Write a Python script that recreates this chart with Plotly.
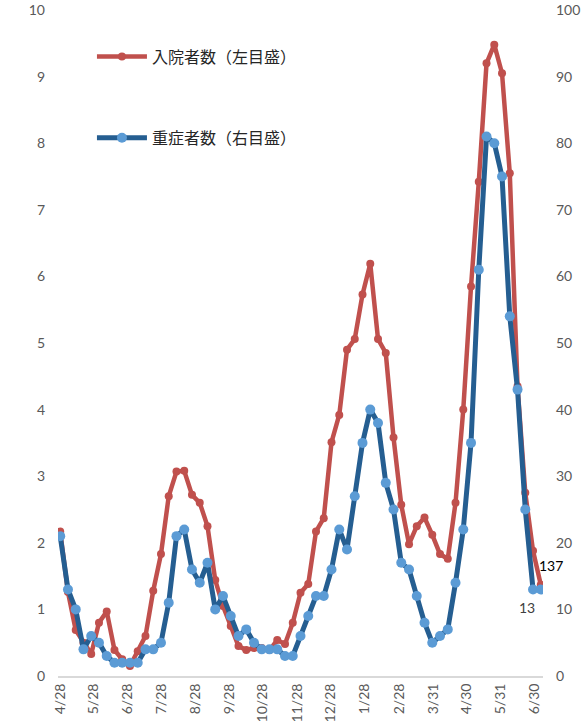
import pandas as pd
import plotly.graph_objects as go

start_date = "2020-04-28"
n_points = 63
dates = pd.date_range(start_date, periods=n_points, freq="7D")

# 入院者数 (left axis)
hospitalized = [2.17, 1.26, 0.69, 0.50, 0.33, 0.80, 0.97, 0.39, 0.25, 0.15,
                0.37, 0.60, 1.28, 1.83, 2.70, 3.07, 3.08, 2.72, 2.60, 2.25,
                1.44, 1.05, 0.75, 0.45, 0.39, 0.42, 0.42, 0.39, 0.54, 0.48,
                0.80, 1.25, 1.38, 2.17, 2.37, 3.51, 3.92, 4.90, 5.06, 5.73,
                6.19, 5.06, 4.85, 3.58, 2.57, 1.98, 2.25, 2.38, 2.12, 1.83,
                1.76, 2.60, 4.00, 5.85, 7.42, 9.20, 9.48, 9.05, 7.55, 4.35,
                2.75, 1.88, 1.37]
# 重症者数 (right axis)
severe = [21, 13, 10, 4, 6, 5, 3, 2, 2, 2,
          2, 4, 4, 5, 11, 21, 22, 16, 14, 17,
          10, 12, 9, 6, 7, 5, 4, 4, 4, 3,
          3, 6, 9, 12, 12, 16, 22, 19, 27, 35,
          40, 38, 29, 25, 17, 16, 12, 8, 5, 6,
          7, 14, 22, 35, 61, 81, 80, 75, 54, 43,
          25, 13, 13]

tick_dates = ["2020-04-28", "2020-05-28", "2020-06-28", "2020-07-28", "2020-08-28",
              "2020-09-28", "2020-10-28", "2020-11-28", "2020-12-28", "2021-01-28",
              "2021-02-28", "2021-03-31", "2021-04-30", "2021-05-31", "2021-06-30"]
tick_labels = ["4/28", "5/28", "6/28", "7/28", "8/28", "9/28", "10/28", "11/28",
               "12/28", "1/28", "2/28", "3/31", "4/30", "5/31", "6/30"]

name_hosp = "入院者数（左目盛）"
name_severe = "重症者数（右目盛）"
label_hosp = "137"
label_severe = "13"

RED = "#C0504D"
BLUE_LINE = "#255E91"
BLUE_MARK = "#5B9BD5"
GREY = "#595959"
FONT = "Noto Sans CJK JP, Noto Sans, sans-serif"
NUMFONT = "Lato, Open Sans, sans-serif"

fig = go.Figure()
fig.add_trace(go.Scatter(
    x=dates, y=hospitalized, name=name_hosp, mode="lines+markers",
    line=dict(color=RED, width=4.5), marker=dict(color=RED, size=8),
    legend="legend", showlegend=True, yaxis="y"))
fig.add_trace(go.Scatter(
    x=dates, y=severe, name=name_severe, mode="lines+markers",
    line=dict(color=BLUE_LINE, width=5), marker=dict(color=BLUE_MARK, size=10),
    legend="legend2", showlegend=True, yaxis="y2"))

fig.add_annotation(x=dates[-2], y=severe[-2], xref="x", yref="y2", text=label_severe,
                   showarrow=False, yshift=-18, xshift=-6,
                   font=dict(family=NUMFONT, size=14, color="#404040"))
fig.add_annotation(x=dates[-1], y=hospitalized[-1], xref="x", yref="y", text=label_hosp,
                   showarrow=False, xanchor="left", yshift=19, xshift=-4,
                   font=dict(family=NUMFONT, size=14, color="#000000"))

legend_common = dict(xanchor="left", yanchor="middle", bgcolor="rgba(0,0,0,0)",
                     font=dict(family=FONT, size=16, color="#262626"),
                     itemwidth=50)

fig.update_layout(
    width=583, height=721,
    showlegend=True,
    margin=dict(l=58, r=40, t=10, b=45, autoexpand=False),
    plot_bgcolor="white", paper_bgcolor="white",
    font=dict(family=FONT, color=GREY),
    legend=dict(x=0.07, y=0.93, **legend_common),
    legend2=dict(x=0.07, y=0.808, **legend_common),
    xaxis=dict(
        type="date", range=["2020-04-26", "2021-07-08"], automargin=False,
        tickvals=tick_dates, ticktext=tick_labels, tickangle=-90,
        showgrid=False, zeroline=False, showline=True, linecolor="#D9D9D9", linewidth=2,
        ticks="", ticklabeloverflow="allow",
        tickfont=dict(family=NUMFONT, size=14, color=GREY)),
    yaxis=dict(
        range=[0, 10], dtick=1, showgrid=False, zeroline=False, showline=False,
        automargin=False, ticklabeloverflow="allow",
        ticks="", ticklabelstandoff=12, tickfont=dict(family=NUMFONT, size=14, color=GREY)),
    yaxis2=dict(
        range=[0, 100], dtick=10, overlaying="y", side="right", showgrid=False,
        automargin=False, ticklabeloverflow="allow",
        zeroline=False, showline=False, ticks="", ticklabelstandoff=12,
        tickfont=dict(family=NUMFONT, size=14, color=GREY)),
)

# remove the default page margin so the figure fills the window exactly
fig.write_html("out.html",
               config={"displayModeBar": False},
               post_script="document.body.style.margin='0';document.body.style.overflow='hidden';")
